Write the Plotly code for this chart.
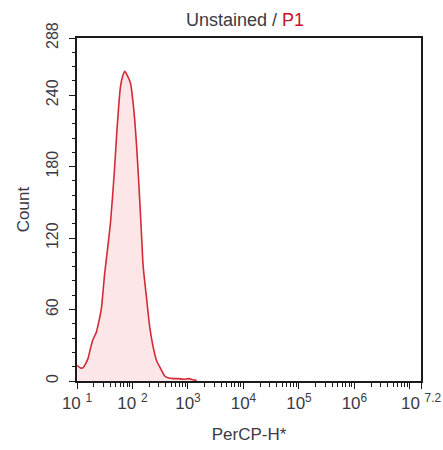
import plotly.graph_objects as go

# PerCP-H channel values (linear scale, plotted on log axis) and event counts
percp_h = [10.1, 11.5, 12.8, 14.1, 15.8, 17.4, 19.5, 22.3, 24.8, 27.5, 31.5, 36.4,
           40.5, 47.3, 52.9, 60.7, 66.8, 72.6, 79.6, 92.1, 106, 118, 130, 144,
           156, 179, 205, 237, 272, 334, 384, 448, 551, 679, 837, 1031, 1217, 1437]
counts = [13, 11, 11, 14, 19, 27, 35, 41, 50, 61, 90, 115,
          135, 177, 213, 247, 256, 260, 257, 250, 227, 199, 166, 127,
          96, 70, 45, 28, 17, 9, 4, 2.5, 2, 2, 1.5, 2, 1, 0.5]

x_tickvals = [1e1, 1e2, 1e3, 1e4, 1e5, 1e6, 1e7, 10 ** 7.2]
x_ticktext = ["10 <sup>1</sup>", "10 <sup>2</sup>", "10<sup>3</sup>", "10<sup>4</sup>",
              "10<sup>5</sup>", "10<sup>6</sup>", "", "10 <sup>7.2</sup>"]
y_tickvals = [0, 60, 120, 180, 240, 288]

FONT = "Liberation Sans, Arial, sans-serif"
TXT = "#3a3a44"
AX = "#1a1a1a"

fig = go.Figure()
fig.add_trace(go.Scatter(
    x=percp_h, y=counts, mode="lines",
    line=dict(color="#d42a35", width=1.6, shape="spline", smoothing=0.6),
    fill="tozeroy", fillcolor="rgba(250,200,205,0.45)",
    hoverinfo="skip", showlegend=False,
))

fig.update_layout(
    width=443, height=450,
    margin=dict(l=77, r=22, t=38, b=69, autoexpand=False),
    paper_bgcolor="white", plot_bgcolor="white",
    font=dict(family=FONT, color=TXT, size=16),
    title=dict(
        text="Unstained / <span style='color:#c8102e'>P1</span>",
        x=0.553, xanchor="center", y=0.956, yanchor="middle",
        font=dict(size=18, color=TXT, family=FONT),
    ),
)

fig.update_xaxes(
    type="log", range=[1, 7.2], automargin=False,
    tickmode="array", tickvals=x_tickvals, ticktext=x_ticktext,
    ticks="outside", ticklen=6, tickwidth=1.3, tickcolor=AX,
    minor=dict(ticks="outside", ticklen=4, tickwidth=1, tickcolor=AX, dtick="D1", showgrid=False),
    showline=True, linecolor=AX, linewidth=1.6, mirror=True,
    showgrid=False, zeroline=False,
    tickfont=dict(size=17, color=TXT, family=FONT),
    title=dict(text="PerCP-H*", font=dict(size=17, color=TXT, family=FONT), standoff=16),
)

fig.update_yaxes(
    range=[0, 288], automargin=False,
    tickmode="array", tickvals=y_tickvals, ticktext=[str(v) for v in y_tickvals],
    tickangle=-90,
    ticks="outside", ticklen=6, tickwidth=1.3, tickcolor=AX,
    minor=dict(ticks="outside", ticklen=3, tickwidth=1, tickcolor=AX, dtick=12, tick0=0, showgrid=False),
    showline=True, linecolor=AX, linewidth=1.6, mirror=True,
    showgrid=False, zeroline=False,
    ticklabelstandoff=5,
    tickfont=dict(size=16, color=TXT, family=FONT),
    title=dict(text="Count", font=dict(size=17, color=TXT, family=FONT), standoff=10),
)

fig.write_html(
    "out.html",
    config={"displayModeBar": False},
    post_script="document.body.style.margin='0';document.body.style.overflow='hidden';",
)
